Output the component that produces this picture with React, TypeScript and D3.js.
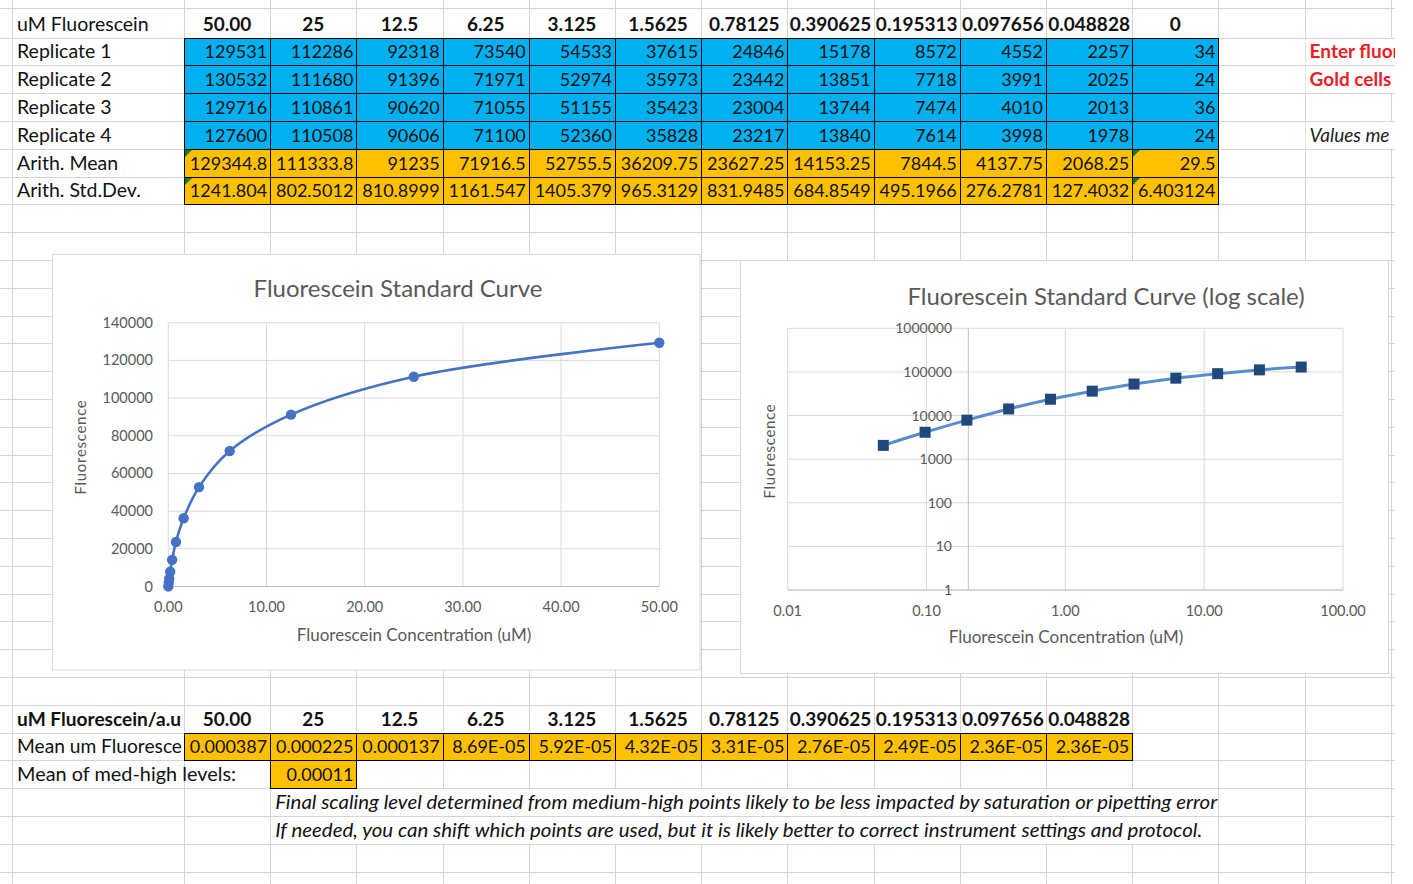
import * as d3 from "d3"

// spreadsheet values
const concentrations = [50, 25, 12.5, 6.25, 3.125, 1.5625, 0.78125, 0.390625, 0.195313, 0.097656, 0.048828, 0]
const replicate1 = [129531, 112286, 92318, 73540, 54533, 37615, 24846, 15178, 8572, 4552, 2257, 34]
const replicate2 = [130532, 111680, 91396, 71971, 52974, 35973, 23442, 13851, 7718, 3991, 2025, 24]
const replicate3 = [129716, 110861, 90620, 71055, 51155, 35423, 23004, 13744, 7474, 4010, 2013, 36]
const replicate4 = [127600, 110508, 90606, 71100, 52360, 35828, 23217, 13840, 7614, 3998, 1978, 24]
const arithMean = [129344.8, 111333.8, 91235, 71916.5, 52755.5, 36209.75, 23627.25, 14153.25, 7844.5, 4137.75, 2068.25, 29.5]
const arithStdDev = [1241.804, 802.5012, 810.8999, 1161.547, 1405.379, 965.3129, 831.9485, 684.8549, 495.1966, 276.2781, 127.4032, 6.403124]
const meanPerFluorescence = [0.000387, 0.000225, 0.000137, 8.69e-5, 5.92e-5, 4.32e-5, 3.31e-5, 2.76e-5, 2.49e-5, 2.36e-5, 2.36e-5]
const meanMedHigh = 0.00011

const replicateRows = [
  { label: "Replicate 1", values: replicate1 },
  { label: "Replicate 2", values: replicate2 },
  { label: "Replicate 3", values: replicate3 },
  { label: "Replicate 4", values: replicate4 },
]

const linearXTicks = [0, 10, 20, 30, 40, 50]
const linearYTicks = [0, 20000, 40000, 60000, 80000, 100000, 120000, 140000]
const logXTicks = [0.01, 0.1, 1, 10, 100]
const logYTicks = [1, 10, 100, 1000, 10000, 100000, 1000000]

const W = 1413
const H = 884
const COL_W = 86.2
const ROW_H = 27.8
const GRID = "#d4d4d4"
const BLUE = "#00B0F0"
const GOLD = "#FFC000"
const FONT = "Lato, 'Open Sans', sans-serif"
const CHART_TEXT = "#595959"

const colLeft = (j: number) => (j === 0 ? 12 : 184 + COL_W * (j - 1))
const rowTop = (k: number) => (k === 0 ? 8 : 37.5 + ROW_H * (k - 1))
const rowBottom = (k: number) => rowTop(k + 1)

function excelGeneral(v: number) {
  if (v !== 0 && Math.abs(v) < 1e-4) {
    const [m, e] = v.toExponential(2).split("e")
    const exp = Math.abs(+e)
    return `${m}E${+e < 0 ? "-" : "+"}${exp < 10 ? "0" + exp : exp}`
  }
  return String(v)
}

function Cell({
  col,
  row,
  text,
  align = "right",
  fill,
  bold,
  italic,
  color = "#111",
  triangle,
  size,
  length,
}: {
  col: number
  row: number
  text: string
  align?: "left" | "right" | "center"
  fill?: string
  bold?: boolean
  italic?: boolean
  color?: string
  triangle?: boolean
  size?: number
  length?: number
}) {
  const x0 = colLeft(col)
  const x1 = colLeft(col + 1)
  const y0 = rowTop(row)
  const y1 = rowBottom(row)
  const tx = align === "left" ? x0 + 5 : align === "right" ? x1 - 3 : (x0 + x1) / 2
  const anchor = align === "left" ? "start" : align === "right" ? "end" : "middle"
  const fs = size ?? (align === "left" ? 19.5 : bold ? 19 : 18)
  return (
    <g>
      {fill && (
        <rect
          x={Math.round(x0) + 0.5}
          y={Math.round(y0) + 0.5}
          width={Math.round(x1) - Math.round(x0)}
          height={Math.round(y1) - Math.round(y0)}
          fill={fill}
          stroke="#000"
          strokeWidth={1}
        />
      )}
      {triangle && <path d={`M${Math.round(x0) + 1},${Math.round(y0) + 1}h7l-7,7z`} fill="#1d7a35" />}
      <text
        x={tx}
        y={y1 - 7}
        textAnchor={anchor}
        fontFamily={FONT}
        fontSize={fs}
        fontWeight={bold ? 700 : 400}
        fontStyle={italic ? "italic" : "normal"}
        fill={color}
        textLength={length}
        lengthAdjust={length ? "spacingAndGlyphs" : undefined}
      >
        {text}
      </text>
    </g>
  )
}

function LinearChart() {
  const x = d3.scaleLinear().domain([0, 50]).range([168.3, 659.3])
  const y = d3.scaleLinear().domain([0, 140000]).range([586.5, 322.7])
  const pts: [number, number][] = concentrations.map((c, i) => [c, arithMean[i]])
  const line = d3
    .line<[number, number]>()
    .x((d) => x(d[0]))
    .y((d) => y(d[1]))
    .curve(d3.curveCatmullRom.alpha(0.5))

  return (
    <g>
      <rect x={52.5} y={254.5} width={647.5} height={415.5} fill="#fff" stroke="#d9d9d9" />
      <text x={398} y={297} textAnchor="middle" fontFamily={FONT} fontSize={24} fill={CHART_TEXT}>
        Fluorescein Standard Curve
      </text>
      {/* gridlines */}
      {linearYTicks.map((t) => (
        <line key={"gy" + t} x1={x(0)} x2={x(50)} y1={y(t)} y2={y(t)} stroke="#d9d9d9" />
      ))}
      {linearXTicks.map((t) => (
        <line key={"gx" + t} x1={x(t)} x2={x(t)} y1={y(0)} y2={y(140000)} stroke="#d9d9d9" />
      ))}
      <line x1={x(0)} x2={x(50)} y1={y(0)} y2={y(0)} stroke="#bfbfbf" />
      {/* tick labels */}
      {linearYTicks.map((t) => (
        <text key={"ly" + t} x={153} y={y(t) + 5} textAnchor="end" fontFamily={FONT} fontSize={14.5} fill={CHART_TEXT}>
          {t}
        </text>
      ))}
      {linearXTicks.map((t) => (
        <text key={"lx" + t} x={x(t)} y={612} textAnchor="middle" fontFamily={FONT} fontSize={14.5} fill={CHART_TEXT}>
          {t.toFixed(2)}
        </text>
      ))}
      <text x={414} y={641} textAnchor="middle" fontFamily={FONT} fontSize={17} fill={CHART_TEXT}>
        Fluorescein Concentration (uM)
      </text>
      <text
        transform="translate(85.5,447) rotate(-90)"
        textAnchor="middle"
        fontFamily={FONT}
        fontSize={15}
        letterSpacing={0.7}
        fill={CHART_TEXT}
      >
        Fluorescence
      </text>
      {/* series */}
      <path d={line(pts) || ""} fill="none" stroke="#4472C4" strokeWidth={2.6} />
      {pts.map((d, i) => (
        <circle key={i} cx={x(d[0])} cy={y(d[1])} r={5.2} fill="#4472C4" />
      ))}
    </g>
  )
}

function LogChart() {
  const x = d3.scaleLog().domain([0.01, 100]).range([787.7, 1343])
  const y = d3.scaleLog().domain([1, 1000000]).range([590, 328.3])
  const pts: [number, number][] = concentrations
    .map((c, i) => [c, arithMean[i]] as [number, number])
    .filter((d) => d[0] > 0)
  const line = d3
    .line<[number, number]>()
    .x((d) => x(d[0]))
    .y((d) => y(d[1]))
    .curve(d3.curveCatmullRom.alpha(0.5))

  return (
    <g>
      <rect x={740.5} y={260.5} width={648} height={413} fill="#fff" stroke="#d9d9d9" />
      <text x={1106} y={305} textAnchor="middle" fontFamily={FONT} fontSize={24} fill={CHART_TEXT}>
        Fluorescein Standard Curve (log scale)
      </text>
      {logYTicks.map((t) => (
        <line key={"gy" + t} x1={x(0.01)} x2={x(100)} y1={y(t)} y2={y(t)} stroke="#d9d9d9" />
      ))}
      {logXTicks.map((t) => (
        <line key={"gx" + t} x1={x(t)} x2={x(t)} y1={y(1)} y2={y(1000000)} stroke="#d9d9d9" />
      ))}
      {/* axes: vertical axis crosses at 0.2 */}
      <line x1={x(0.01)} x2={x(100)} y1={y(1)} y2={y(1)} stroke="#bfbfbf" />
      <line x1={x(0.2)} x2={x(0.2)} y1={y(1)} y2={y(1000000)} stroke="#bfbfbf" />
      {logYTicks.map((t) => (
        <text key={"ly" + t} x={952} y={y(t) + 5} textAnchor="end" fontFamily={FONT} fontSize={14} fill={CHART_TEXT}>
          {t}
        </text>
      ))}
      {logXTicks.map((t) => (
        <text key={"lx" + t} x={x(t)} y={616} textAnchor="middle" fontFamily={FONT} fontSize={14.5} fill={CHART_TEXT}>
          {t.toFixed(2)}
        </text>
      ))}
      <text x={1066} y={643} textAnchor="middle" fontFamily={FONT} fontSize={17} fill={CHART_TEXT}>
        Fluorescein Concentration (uM)
      </text>
      <text
        transform="translate(774.5,451) rotate(-90)"
        textAnchor="middle"
        fontFamily={FONT}
        fontSize={15}
        letterSpacing={0.7}
        fill={CHART_TEXT}
      >
        Fluorescence
      </text>
      <path d={line(pts) || ""} fill="none" stroke="#5b8bcf" strokeWidth={3} />
      {pts.map((d, i) => (
        <rect key={i} x={x(d[0]) - 5.5} y={y(d[1]) - 5.5} width={11} height={11} fill="#1f497d" />
      ))}
    </g>
  )
}

export default function App() {
  const vLines = [12, ...d3.range(1, 16).map((j) => colLeft(j))]
  const hLines = [8, ...d3.range(1, 32).map((k) => rowTop(k))]

  // white masks where text spills over neighbouring cells
  const spills = [
    { x0: colLeft(1), x1: colLeft(2), row: 27 },
    { x0: colLeft(2), x1: colLeft(12), row: 28 },
    { x0: colLeft(2), x1: colLeft(12), row: 29 },
    { x0: colLeft(14), x1: 1395, row: 1 },
    { x0: colLeft(14), x1: 1395, row: 2 },
    { x0: colLeft(14), x1: 1395, row: 4 },
  ]

  return (
    <svg width={W} height={H} style={{ position: "absolute", left: 0, top: 0, display: "block", background: "#fff" }}>
      <defs>
        <clipPath id="rightEdge">
          <rect x={0} y={0} width={1395} height={H} />
        </clipPath>
      </defs>
      <rect width={W} height={H} fill="#fff" />

      {/* sheet grid */}
      {vLines.map((v) => (
        <line key={"v" + v} x1={Math.round(v) + 0.5} x2={Math.round(v) + 0.5} y1={0} y2={H} stroke={GRID} />
      ))}
      {spills.map((s, i) => (
        <rect key={"s" + i} x={s.x0 + 1} y={rowTop(s.row)} width={s.x1 - s.x0} height={ROW_H} fill="#fff" />
      ))}
      {hLines.map((h) => (
        <line key={"h" + h} x1={0} x2={1395} y1={Math.round(h) + 0.5} y2={Math.round(h) + 0.5} stroke={GRID} />
      ))}

      {/* top table */}
      <Cell col={0} row={0} text="uM Fluorescein" align="left" />
      {concentrations.map((c, i) => (
        <Cell key={"hc" + i} col={i + 1} row={0} text={i === 0 ? c.toFixed(2) : String(c)} align="center" bold />
      ))}
      {replicateRows.map((r, k) => (
        <g key={r.label}>
          <Cell col={0} row={k + 1} text={r.label} align="left" />
          {r.values.map((v, i) => (
            <Cell key={i} col={i + 1} row={k + 1} text={String(v)} fill={BLUE} />
          ))}
        </g>
      ))}
      <Cell col={0} row={5} text="Arith. Mean" align="left" />
      {arithMean.map((v, i) => (
        <Cell key={"m" + i} col={i + 1} row={5} text={String(v)} fill={GOLD} triangle={i === 0 || i === 11} />
      ))}
      <Cell col={0} row={6} text="Arith. Std.Dev." align="left" />
      {arithStdDev.map((v, i) => (
        <Cell key={"sd" + i} col={i + 1} row={6} text={String(v)} fill={GOLD} triangle={i === 0 || i === 11} />
      ))}

      {/* notes on the right */}
      <g clipPath="url(#rightEdge)">
        <Cell col={14} row={1} text="Enter fluor" align="left" bold color="#ee1c25" size={19} />
        <Cell col={14} row={2} text="Gold cells" align="left" bold color="#ee1c25" size={19} />
        <Cell col={14} row={4} text="Values me" align="left" italic color="#222" size={19} />
      </g>

      <LinearChart />
      <LogChart />

      {/* bottom table */}
      <Cell col={0} row={25} text="uM Fluorescein/a.u" align="left" bold size={18} length={164} />
      <Cell col={0} row={26} text="Mean um Fluoresce" align="left" length={165} />
      {concentrations.slice(0, 11).map((c, i) => (
        <Cell key={"bc" + i} col={i + 1} row={25} text={i === 0 ? c.toFixed(2) : String(c)} align="center" bold />
      ))}
      {meanPerFluorescence.map((v, i) => (
        <Cell key={"r" + i} col={i + 1} row={26} text={excelGeneral(v)} fill={GOLD} />
      ))}
      <Cell col={0} row={27} text="Mean of med-high levels:" align="left" length={219} />
      <Cell col={2} row={27} text={excelGeneral(meanMedHigh)} fill={GOLD} />
      <Cell
        col={2}
        row={28}
        text="Final scaling level determined from medium-high points likely to be less impacted by saturation or pipetting error"
        align="left"
        italic
        size={19}
        length={942}
      />
      <Cell
        col={2}
        row={29}
        text="If needed, you can shift which points are used, but it is likely better to correct instrument settings and protocol."
        align="left"
        italic
        size={19}
        length={927}
      />
    </svg>
  )
}
